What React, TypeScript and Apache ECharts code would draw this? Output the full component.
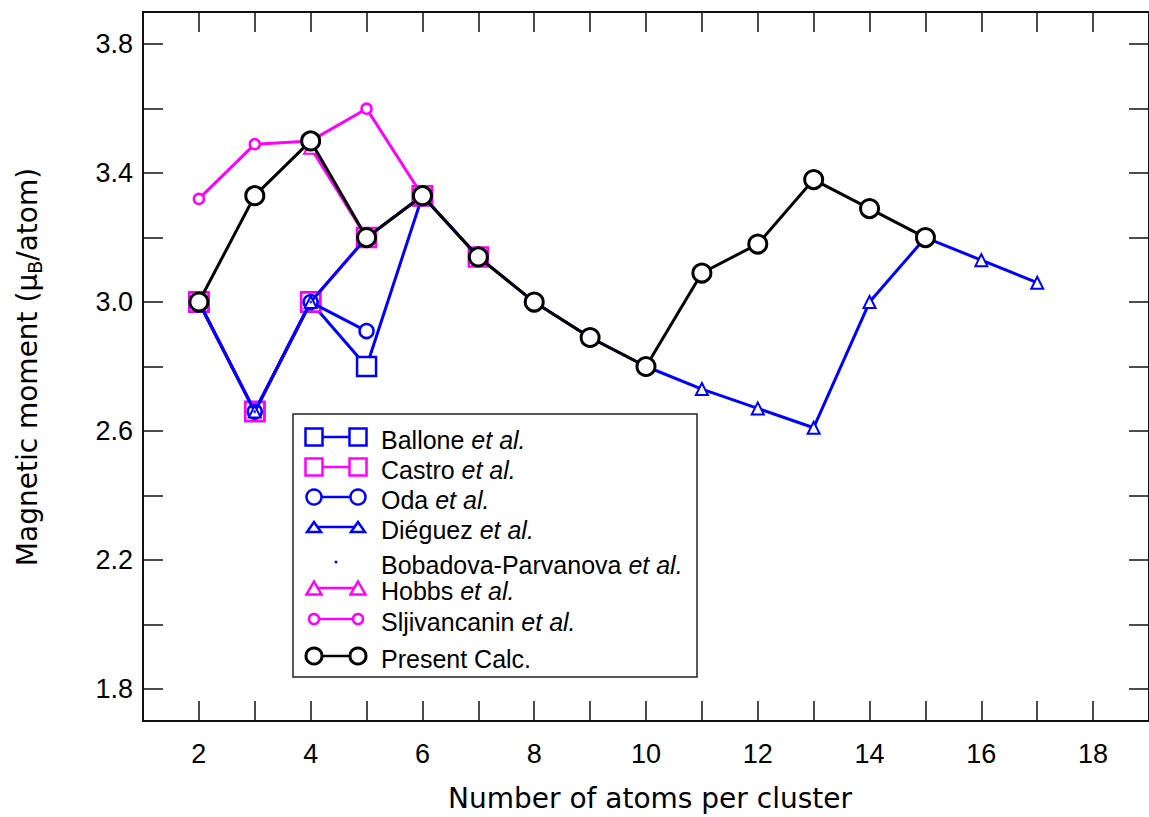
import React, { useEffect, useRef } from "react";
import * as echarts from "echarts";

// ---------- data ----------
const presentAtoms = [2, 3, 4, 5, 6, 7, 8, 9, 10, 11, 12, 13, 14, 15];
const presentMoment = [3.0, 3.33, 3.5, 3.2, 3.33, 3.14, 3.0, 2.89, 2.8, 3.09, 3.18, 3.38, 3.29, 3.2];

const ballonAtoms = [2, 3, 4, 5, 6];
const ballonMoment = [3.0, 2.66, 3.0, 2.8, 3.33];

const castroAtoms = [2, 3, 4, 5, 6, 7];
const castroMoment = [3.0, 2.66, 3.0, 3.2, 3.33, 3.14];

const odaAtoms = [2, 3, 4, 5];
const odaMoment = [3.0, 2.66, 3.0, 2.91];

const dieguezAtoms = [2, 3, 4, 5, 6, 7, 8, 9, 10, 11, 12, 13, 14, 15, 16, 17];
const dieguezMoment = [3.0, 2.66, 3.0, 3.2, 3.33, 3.14, 3.0, 2.89, 2.8, 2.73, 2.67, 2.61, 3.0, 3.2, 3.13, 3.06];

const bobadovaAtoms = [3, 4];
const bobadovaMoment = [2.66, 3.0];

const hobbsAtoms = [4, 5];
const hobbsMoment = [3.48, 3.2];

const sljAtoms = [2, 3, 4, 5, 6];
const sljMoment = [3.32, 3.49, 3.5, 3.6, 3.33];

const xTickLabels = [2, 4, 6, 8, 10, 12, 14, 16, 18];
const yTickLabels = [1.8, 2.2, 2.6, 3.0, 3.4, 3.8];
const yTicks = [1.8, 2.0, 2.2, 2.4, 2.6, 2.8, 3.0, 3.2, 3.4, 3.6, 3.8];

const legendNames = [
  "Ballone",
  "Castro",
  "Oda",
  "Diéguez",
  "Bobadova-Parvanova",
  "Hobbs",
  "Sljivancanin",
  "Present Calc.",
];
const legendItalic = [true, true, true, true, true, true, true, false];

const BLUE = "#0000ff";
const MAGENTA = "#ff00ff";
const BLACK = "#000000";

const TICK_FONT = "Liberation Sans";
const TITLE_FONT = "DejaVu Sans";

function lineSeries(
  name: string,
  xs: number[],
  ys: number[],
  color: string,
  symbol: string,
  size: number,
  lw: number,
  symLw: number,
  z: number
) {
  return {
    name,
    type: "line",
    data: xs.map((x, i) => [x, ys[i]]),
    symbol,
    symbolSize: size,
    showSymbol: true,
    showAllSymbol: true,
    lineStyle: { color, width: lw },
    itemStyle: { color: "#ffffff", borderColor: color, borderWidth: symLw },
    emphasis: { disabled: true },
    z,
  };
}

type Leg = { color: string; shape: string; w: number; h: number; lw: number; line: boolean };
const legendStyles: Leg[] = [
  { color: BLUE, shape: "square", w: 17, h: 17, lw: 2.5, line: true },
  { color: MAGENTA, shape: "square", w: 17, h: 17, lw: 2.5, line: true },
  { color: BLUE, shape: "circle", w: 15, h: 15, lw: 2.5, line: true },
  { color: BLUE, shape: "triangle", w: 14, h: 10, lw: 2.5, line: true },
  { color: BLUE, shape: "dot", w: 3, h: 3, lw: 0, line: false },
  { color: MAGENTA, shape: "triangle", w: 15, h: 13, lw: 2.5, line: true },
  { color: MAGENTA, shape: "circle", w: 10, h: 10, lw: 2.5, line: true },
  { color: BLACK, shape: "circle", w: 16, h: 16, lw: 3, line: true },
];
const legendRowY = [437, 467, 497, 527, 562, 588, 619, 656];

function legendSymbol(s: Leg, cx: number, cy: number): any {
  const style = { fill: "#ffffff", stroke: s.color, lineWidth: s.lw };
  if (s.shape === "square") {
    return { type: "rect", shape: { x: cx - s.w / 2, y: cy - s.h / 2, width: s.w, height: s.h }, style, z: 102 };
  }
  if (s.shape === "circle") {
    return { type: "circle", shape: { cx, cy, r: s.w / 2 }, style, z: 102 };
  }
  if (s.shape === "triangle") {
    return {
      type: "polygon",
      shape: {
        points: [
          [cx, cy - s.h / 2],
          [cx + s.w / 2, cy + s.h / 2],
          [cx - s.w / 2, cy + s.h / 2],
        ],
      },
      style,
      z: 102,
    };
  }
  return { type: "circle", shape: { cx, cy, r: s.w / 2 }, style: { fill: s.color }, z: 102 };
}

function buildLegend(): any[] {
  const els: any[] = [];
  const boxX = 293;
  const boxY = 414;
  els.push({
    type: "rect",
    shape: { x: boxX, y: boxY, width: 404, height: 263 },
    style: { fill: "#ffffff", stroke: "#222222", lineWidth: 1.5 },
    z: 100,
  });
  const x1 = 314;
  const x2 = 358;
  legendNames.forEach((name, i) => {
    const s = legendStyles[i];
    const y = legendRowY[i];
    if (s.line) {
      els.push({
        type: "line",
        shape: { x1, y1: y, x2, y2: y },
        style: { stroke: s.color, lineWidth: 2.5 },
        z: 101,
      });
      els.push(legendSymbol(s, x1, y));
      els.push(legendSymbol(s, x2, y));
    } else {
      els.push(legendSymbol(s, (x1 + x2) / 2, y));
    }
    els.push({
      type: "text",
      x: 381,
      y: y + 3,
      z: 103,
      style: {
        text: legendItalic[i] ? `{n|${name} }{i|et al.}` : `{n|${name}}`,
        align: "left",
        verticalAlign: "middle",
        rich: {
          n: { fontFamily: TICK_FONT, fontSize: 25, lineHeight: 22, fill: "#000000" },
          i: { fontFamily: TICK_FONT, fontSize: 25, lineHeight: 22, fontStyle: "italic", fill: "#000000" },
        },
      },
    });
  });
  return els;
}

export default function App() {
  const ref = useRef<HTMLDivElement>(null);

  useEffect(() => {
    if (!ref.current) return;
    const chart = echarts.init(ref.current, null, { renderer: "svg" });

    const axisLine = { show: true, lineStyle: { color: "#111111", width: 2 } };
    const axisTick = { show: true, inside: true, length: 20, lineStyle: { color: "#111111", width: 1.5 } };

    const option: any = {
      animation: false,
      backgroundColor: "#ffffff",
      grid: { left: 143, top: 12, width: 1013, height: 709, containLabel: false },
      xAxis: [
        {
          type: "value",
          min: 1,
          max: 19,
          interval: 1,
          position: "bottom",
          axisLine,
          axisTick,
          splitLine: { show: false },
          axisLabel: {
            customValues: xTickLabels,
            fontFamily: TICK_FONT,
            fontSize: 27,
            color: "#000000",
            margin: 19,
          },
        },
        {
          type: "value",
          min: 1,
          max: 19,
          interval: 1,
          position: "top",
          axisLine,
          axisTick,
          splitLine: { show: false },
          axisLabel: { show: false },
        },
      ],
      yAxis: [
        {
          type: "value",
          min: 1.7,
          max: 3.9,
          position: "left",
          axisLine,
          axisTick: { ...axisTick, customValues: yTicks },
          splitLine: { show: false },
          axisLabel: {
            customValues: yTickLabels,
            formatter: (v: number) => v.toFixed(1),
            fontFamily: TICK_FONT,
            fontSize: 27,
            color: "#000000",
            margin: 10,
          },
        },
        {
          type: "value",
          min: 1.7,
          max: 3.9,
          position: "right",
          axisLine,
          axisTick: { ...axisTick, customValues: yTicks },
          splitLine: { show: false },
          axisLabel: { show: false },
        },
      ],
      series: [
        lineSeries("Ballone", ballonAtoms, ballonMoment, BLUE, "rect", 19, 3, 2.5, 3),
        lineSeries("Castro", castroAtoms, castroMoment, MAGENTA, "rect", 19, 3, 2.5, 4),
        lineSeries("Oda", odaAtoms, odaMoment, BLUE, "circle", 14, 3, 2.5, 5),
        lineSeries("Diéguez", dieguezAtoms, dieguezMoment, BLUE, "triangle", 12, 3, 2, 6),
        {
          name: "Bobadova-Parvanova",
          type: "scatter",
          data: bobadovaAtoms.map((x, i) => [x, bobadovaMoment[i]]),
          symbol: "circle",
          symbolSize: 3,
          itemStyle: { color: BLUE },
          emphasis: { disabled: true },
          z: 7,
        },
        lineSeries("Hobbs", hobbsAtoms, hobbsMoment, MAGENTA, "triangle", 13, 3, 2, 8),
        lineSeries("Sljivancanin", sljAtoms, sljMoment, MAGENTA, "circle", 10, 3, 2.5, 9),
        lineSeries("Present Calc.", presentAtoms, presentMoment, BLACK, "circle", 18, 3, 3, 10),
      ],
      graphic: [
        {
          type: "text",
          x: 650,
          y: 798,
          z: 50,
          style: {
            text: "Number of atoms per cluster",
            fontFamily: TITLE_FONT,
            fontSize: 28,
            fill: "#000000",
            align: "center",
            verticalAlign: "middle",
          },
        },
        {
          type: "text",
          x: 27,
          y: 367,
          rotation: Math.PI / 2,
          z: 50,
          style: {
            text: "{n|Magnetic moment (μ}{s|B}{n|/atom)}",
            align: "center",
            verticalAlign: "middle",
            rich: {
              n: { fontFamily: TITLE_FONT, fontSize: 28, lineHeight: 34, fill: "#000000", verticalAlign: "middle" },
              s: { fontFamily: TITLE_FONT, fontSize: 19, lineHeight: 34, fill: "#000000", verticalAlign: "bottom" },
            },
          },
        },
        ...buildLegend(),
      ],
    };

    chart.setOption(option);
    return () => {
      chart.dispose();
    };
  }, []);

  return (
    <div
      ref={ref}
      style={{ position: "fixed", left: 0, top: 0, width: 1149, height: 817, background: "#ffffff" }}
    />
  );
}
